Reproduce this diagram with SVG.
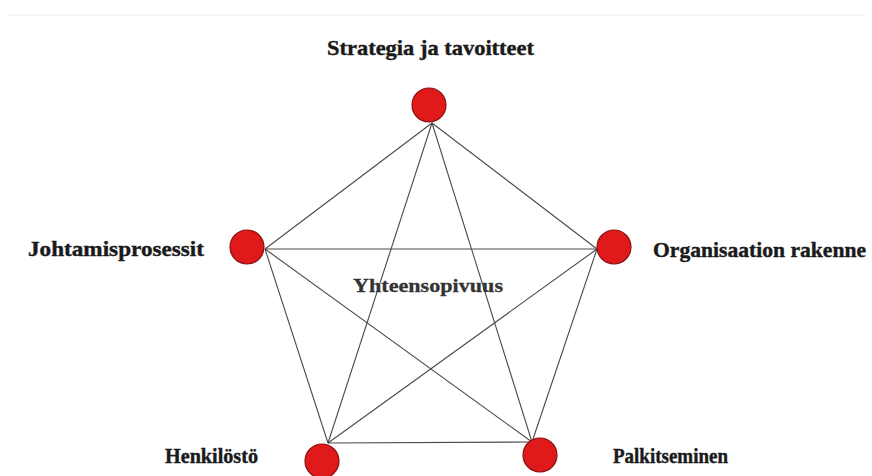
<svg xmlns="http://www.w3.org/2000/svg" width="872" height="476" viewBox="0 0 872 476">
<style>
.edge{stroke:#4a4a4a;stroke-width:1.1;fill:none}
.node{fill:#e01a1a;stroke:#8a1212;stroke-width:1.2}
.lbl{font-family:"Liberation Serif","Times New Roman",serif;font-weight:bold;font-size:21px;fill:#1a1a1a;stroke:#1a1a1a;stroke-width:0.4}
.mid{font-family:"Liberation Serif","Times New Roman",serif;font-weight:bold;font-size:19px;fill:#333;stroke:#333;stroke-width:0.3}
</style>
<rect width="872" height="476" fill="#fff"/>
<line x1="8" y1="15" x2="866" y2="15" stroke="#f3f3f3" stroke-width="1.5"/>
<g id="connectors">
<line class="edge" x1="432" y1="123" x2="265" y2="249"/>
<line class="edge" x1="432" y1="123" x2="597" y2="249"/>
<line class="edge" x1="432" y1="123" x2="328" y2="443"/>
<line class="edge" x1="432" y1="123" x2="532" y2="442"/>
<line class="edge" x1="265" y1="249" x2="597" y2="249"/>
<line class="edge" x1="265" y1="249" x2="328" y2="443"/>
<line class="edge" x1="265" y1="249" x2="532" y2="442"/>
<line class="edge" x1="597" y1="249" x2="328" y2="443"/>
<line class="edge" x1="597" y1="249" x2="532" y2="442"/>
<line class="edge" x1="328" y1="443" x2="532" y2="442"/>
</g>
<g id="node-strategia">
<circle class="node" cx="429" cy="105" r="17"/>
<text class="lbl" x="327" y="55" textLength="207" lengthAdjust="spacingAndGlyphs">Strategia ja tavoitteet</text>
</g>
<g id="node-johtamisprosessit">
<circle class="node" cx="247" cy="247" r="17"/>
<text class="lbl" x="28" y="256" textLength="176" lengthAdjust="spacingAndGlyphs">Johtamisprosessit</text>
</g>
<g id="node-organisaatio">
<circle class="node" cx="614" cy="247" r="17"/>
<text class="lbl" x="653" y="257" textLength="213" lengthAdjust="spacingAndGlyphs">Organisaation rakenne</text>
</g>
<g id="node-henkilosto">
<circle class="node" cx="322" cy="461" r="17"/>
<text class="lbl" x="165" y="463" textLength="93" lengthAdjust="spacingAndGlyphs">Henkilöstö</text>
</g>
<g id="node-palkitseminen">
<circle class="node" cx="540" cy="455" r="17"/>
<text class="lbl" x="613" y="463" textLength="115" lengthAdjust="spacingAndGlyphs">Palkitseminen</text>
</g>
<g id="label-yhteensopivuus">
<text class="mid" x="353" y="292" textLength="150" lengthAdjust="spacingAndGlyphs">Yhteensopivuus</text>
</g>
</svg>
